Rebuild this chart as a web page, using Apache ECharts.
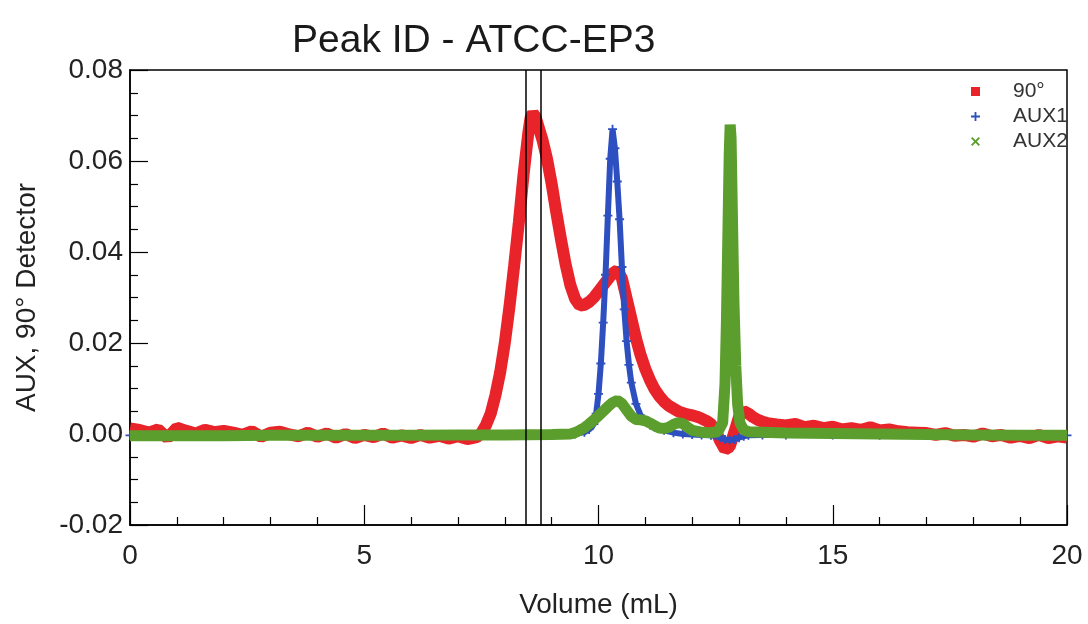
<!DOCTYPE html>
<html>
<head>
<meta charset="utf-8">
<script src="https://cdn.jsdelivr.net/npm/echarts@6/dist/echarts.min.js"></script>
<style>html,body{margin:0;padding:0;background:#fff}#c{width:1088px;height:624px}</style>
</head>
<body>
<div id="c"></div>
<script>
// ---- data ----
const titleText = 'Peak ID - ATCC-EP3';
const seriesNames = ['90°', 'AUX1', 'AUX2'];
const xTicks = [0, 5, 10, 15, 20];
const yTicks = [-0.02, 0.00, 0.02, 0.04, 0.06, 0.08];
const markerVolumes = [8.45, 8.77];

// 90° detector (red)
const vol90 = [
  0.0,0.2,0.4,0.6,0.8,1.0,1.2,1.4,1.6,1.8,2.0,2.2,2.4,2.6,2.8,3.0,3.2,3.4,3.6,3.8,
  4.0,4.2,4.4,4.6,4.8,5.0,5.2,5.4,5.6,5.8,6.0,6.2,6.4,6.6,6.8,7.0,7.2,7.4,7.5,
  7.6,7.7,7.8,7.9,8.0,8.1,8.2,8.3,8.4,8.5,8.55,8.6,8.65,8.7,8.8,8.9,9.0,9.1,9.2,9.3,9.4,9.5,
  9.6,9.7,9.8,9.9,10.0,10.1,10.2,10.3,10.4,10.5,10.6,10.7,10.8,10.9,11.0,11.1,11.2,11.3,11.4,11.5,
  11.6,11.7,11.8,11.9,12.0,12.1,12.2,12.3,12.4,12.5,12.6,12.7,12.8,12.9,13.0,13.1,13.2,13.3,13.4,13.5,
  13.6,13.8,14.0,14.2,14.4,14.6,14.8,15.0,15.2,15.4,15.6,15.8,16.0,16.2,16.4,16.6,16.8,17.0,17.2,17.4,
  17.6,17.8,18.0,18.2,18.4,18.6,18.8,19.0,19.2,19.4,19.6,19.8,20.0
];
const val90 = [
  0.0012,0.0009,0.0003,0.0010,-0.0009,0.0014,0.0007,0.0001,0.0009,0.0004,0.0007,0.0003,-0.0002,0.0006,-0.0006,0.0003,0.0005,-0.0001,-0.0005,0.0003,
  -0.0006,0.0001,-0.0008,0.0000,-0.0009,-0.0002,-0.0007,0.0001,-0.0008,-0.0003,-0.0009,-0.0002,-0.0008,-0.0004,-0.0010,-0.0005,-0.0011,-0.0007,0.0002,
  0.0020,0.0045,0.0085,0.0135,0.0200,0.0280,0.0370,0.0465,0.0570,0.0660,0.0695,0.0705,0.0698,0.0682,0.0648,0.0605,0.0550,0.0487,0.0427,0.0372,0.0327,0.0297,
  0.0282,0.0284,0.0290,0.0300,0.0313,0.0327,0.0340,0.0353,0.0360,0.0342,0.0298,0.0254,0.0210,0.0173,0.0143,0.0118,0.0098,0.0083,0.0071,0.0062,
  0.0056,0.0050,0.0046,0.0043,0.0041,0.0038,0.0034,0.0029,0.0022,0.0008,-0.0016,-0.0034,-0.0028,0.0004,0.0038,0.0050,0.0045,0.0037,0.0031,0.0027,
  0.0024,0.0021,0.0019,0.0022,0.0015,0.0018,0.0013,0.0016,0.0010,0.0013,0.0009,0.0015,0.0008,0.0010,0.0006,0.0004,0.0003,0.0002,-0.0002,0.0002,
  -0.0004,-0.0002,-0.0006,0.0001,-0.0005,-0.0002,-0.0008,-0.0004,-0.0009,-0.0002,-0.0009,-0.0005,-0.0008
];

// AUX1 (blue)
const volAux1 = [
  0,1,2,3,4,5,6,7,8,9,9.5,9.7,9.8,9.9,9.95,10.0,10.05,10.1,10.15,10.2,10.25,10.3,10.35,10.4,10.45,10.5,10.55,10.6,10.65,10.7,
  10.8,10.9,11.0,11.1,11.2,11.4,11.6,11.8,12.0,12.2,12.4,12.5,12.6,12.7,12.8,12.9,13.0,13.1,13.2,13.5,14,15,16,17,18,19,20
];
const valAux1 = [
  -0.0003,-0.0003,-0.0003,-0.0003,-0.0003,-0.0003,-0.0003,-0.0003,-0.0003,-0.0002,0.0000,0.0004,0.0010,0.0022,0.0045,0.0088,0.0155,0.0245,0.0350,0.0480,0.0605,0.0670,0.0628,0.0555,0.0472,0.0367,0.0274,0.0204,0.0152,0.0113,
  0.0066,0.0041,0.0028,0.0020,0.0015,0.0008,0.0003,0.0000,-0.0001,-0.0002,-0.0003,-0.0004,-0.0008,-0.0012,-0.0013,-0.0012,-0.0008,-0.0005,-0.0003,-0.0002,-0.0002,-0.0002,-0.0003,-0.0003,-0.0003,-0.0003,-0.0003
];

// AUX2 (green)
const volAux2 = [
  0,1,2,3,4,5,6,7,8,9,9.4,9.5,9.6,9.7,9.8,9.9,10.0,10.1,10.2,10.3,10.4,10.5,10.6,10.7,10.8,10.9,11.0,11.1,11.2,11.3,
  11.4,11.5,11.6,11.7,11.8,11.9,12.0,12.2,12.4,12.55,12.65,12.7,12.73,12.76,12.79,12.81,12.83,12.86,12.89,12.93,12.97,13.02,13.1,13.2,13.5,14,15,16,17,18,19,20
];
const valAux2 = [
  -0.0004,-0.0004,-0.0004,-0.0003,-0.0003,-0.0003,-0.0003,-0.0002,-0.0002,-0.0001,0.0000,0.0003,0.0008,0.0014,0.0022,0.0031,0.0040,0.0050,0.0060,0.0069,0.0074,0.0067,0.0053,0.0039,0.0032,0.0031,0.0029,0.0024,0.0018,0.0013,
  0.0012,0.0015,0.0021,0.0025,0.0023,0.0015,0.0008,0.0004,0.0003,0.0005,0.0025,0.0110,0.0245,0.0430,0.0615,0.0680,0.0650,0.0470,0.0295,0.0150,0.0065,0.0024,0.0009,0.0005,0.0004,0.0002,0.0001,0.0000,-0.0001,-0.0002,-0.0003,-0.0003
];

// ---- chart ----
const pair = (xs, ys) => xs.map((x, i) => [x, ys[i]]);
const RED = '#e8242a', BLUE = '#2d4fc0', GREEN = '#5c9e2e';
const FONT = 'Liberation Sans, Arial, sans-serif';
const plusPath = 'path://M4,0h2v4h4v2h-4v4h-2v-4h-4v-2h4z';
const xPath = 'path://M0,1.5L1.5,0L5,3.5L8.5,0L10,1.5L6.5,5L10,8.5L8.5,10L5,6.5L1.5,10L0,8.5L3.5,5z';

const chart = echarts.init(document.getElementById('c'), null, {renderer: 'canvas'});
chart.setOption({
  backgroundColor: '#fff',
  animation: false,
  title: {
    text: titleText, left: 287, top: 17,
    textStyle: {fontFamily: FONT, fontSize: 39, fontWeight: 'normal', color: '#1a1a1a'}
  },
  legend: {
    orient: 'vertical', left: 966, top: 76, itemWidth: 9, itemHeight: 9, itemGap: 4,
    textStyle: {fontFamily: FONT, fontSize: 21, color: '#333', padding: [0, 0, 0, 28], lineHeight: 21},
    data: [
      {name: seriesNames[0], icon: 'rect'},
      {name: seriesNames[1], icon: plusPath},
      {name: seriesNames[2], icon: xPath}
    ]
  },
  grid: {left: 130, right: 21, top: 70, bottom: 97, show: true, borderColor: '#000', borderWidth: 1.5, backgroundColor: 'transparent'},
  xAxis: {
    type: 'value', min: xTicks[0], max: xTicks[xTicks.length - 1], interval: 5,
    name: 'Volume (mL)', nameLocation: 'middle', nameGap: 66,
    nameTextStyle: {fontFamily: FONT, fontSize: 28, color: '#222'},
    axisLine: {show: true, onZero: false, lineStyle: {color: '#000', width: 1.5}},
    axisTick: {show: true, inside: true, length: 20, lineStyle: {color: '#000', width: 1.2}},
    minorTick: {show: true, splitNumber: 5, length: 8, lineStyle: {color: '#000', width: 1.2}},
    axisLabel: {fontFamily: FONT, fontSize: 28, color: '#222', margin: 17},
    splitLine: {show: false}
  },
  yAxis: {
    type: 'value', min: yTicks[0], max: yTicks[yTicks.length - 1], interval: 0.02,
    name: 'AUX, 90° Detector', nameLocation: 'middle', nameGap: 89,
    nameTextStyle: {fontFamily: FONT, fontSize: 28, color: '#222'},
    axisLine: {show: true, onZero: false, lineStyle: {color: '#000', width: 1.5}},
    axisTick: {show: true, inside: true, length: 18, lineStyle: {color: '#000', width: 1.2}},
    minorTick: {show: true, splitNumber: 4, length: 8, lineStyle: {color: '#000', width: 1.2}},
    axisLabel: {fontFamily: FONT, fontSize: 28, color: '#222', margin: 7, formatter: v => v.toFixed(2)},
    splitLine: {show: false}
  },
  series: [
    {
      name: seriesNames[0], type: 'line', data: pair(vol90, val90), showSymbol: false, symbol: 'rect',
      itemStyle: {color: RED}, lineStyle: {color: RED, width: 12}, z: 2
    },
    {
      name: seriesNames[1], type: 'line', data: pair(volAux1, valAux1), showSymbol: true, symbol: plusPath, symbolSize: 9,
      itemStyle: {color: BLUE}, lineStyle: {color: BLUE, width: 6}, z: 3
    },
    {
      name: seriesNames[2], type: 'line', data: pair(volAux2, valAux2), showSymbol: false, symbol: xPath,
      itemStyle: {color: GREEN}, lineStyle: {color: GREEN, width: 11}, z: 4
    },
    {
      type: 'line', data: [], z: 10,
      markLine: {
        silent: true, symbol: ['none', 'none'], label: {show: false},
        lineStyle: {color: '#000', width: 1.5, type: 'solid'},
        data: markerVolumes.map(v => ({xAxis: v}))
      }
    }
  ]
});
</script>
</body>
</html>
